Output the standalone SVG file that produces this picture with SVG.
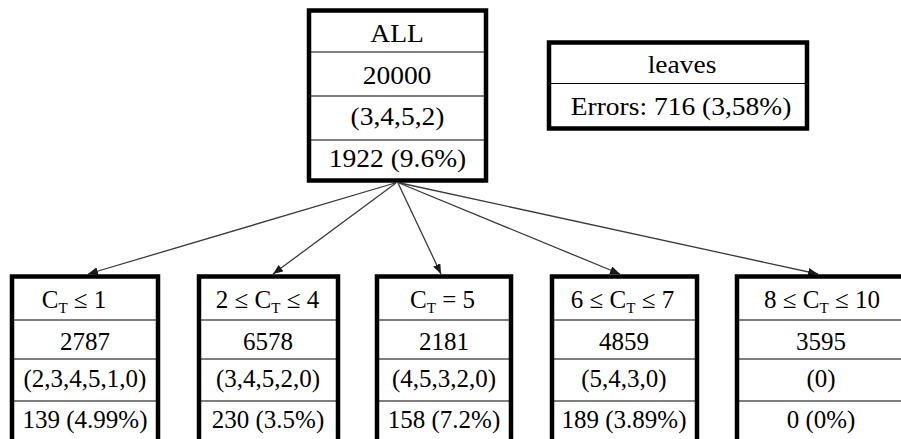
<svg xmlns="http://www.w3.org/2000/svg" width="901" height="439" viewBox="0 0 901 439">
<style>
.box{fill:#fff;stroke:#000;stroke-width:4.5}
.div{stroke:#000;stroke-width:1.2}
text{font-family:"Liberation Serif","Times New Roman",serif;fill:#000;text-anchor:middle}
.big{font-size:25px}
.sm{font-size:25px}
.sub{font-size:15px}
.edge{stroke:#3a3a3a;stroke-width:1.3;fill:none;marker-end:url(#ah)}
</style>
<defs>
<marker id="ah" markerUnits="userSpaceOnUse" markerWidth="10" markerHeight="8" refX="10" refY="4" orient="auto">
<path d="M0,0 L10,4 L0,8 z" fill="#1a1a1a"/>
</marker>
</defs>
<rect width="901" height="439" fill="#fff"/>
<g id="edges">
<line class="edge" x1="395" y1="183" x2="88" y2="274"/>
<line class="edge" x1="396" y1="183" x2="273" y2="274"/>
<line class="edge" x1="398" y1="183" x2="441" y2="274"/>
<line class="edge" x1="399" y1="183" x2="620" y2="274"/>
<line class="edge" x1="400" y1="183" x2="818" y2="274"/>
</g>
<g id="root">
<rect class="box" x="309" y="10.5" width="177" height="170"/>
<line class="div" x1="309" y1="52" x2="486" y2="52"/>
<line class="div" x1="309" y1="96" x2="486" y2="96"/>
<line class="div" x1="309" y1="140" x2="486" y2="140"/>
<text class="big" transform="matrix(1.1 0 0 1 397 42)">ALL</text>
<text class="big" transform="matrix(1.1 0 0 1 397 84)">20000</text>
<text class="big" transform="matrix(1.1 0 0 1 397.5 125)">(3,4,5,2)</text>
<text class="big" transform="matrix(1.1 0 0 1 397.5 167)">1922 (9.6%)</text>
</g>
<g id="leaves">
<rect class="box" x="549" y="42.5" width="258" height="86"/>
<line class="div" x1="549" y1="83.5" x2="807" y2="83.5"/>
<text class="big" transform="matrix(1.1 0 0 1 682 73)">leaves</text>
<text class="big" transform="matrix(1.1 0 0 1 681 115)">Errors: 716 (3,58%)</text>
</g>
<g id="n1">
<rect class="box" x="12" y="276.5" width="146" height="180"/>
<line class="div" x1="12" y1="320" x2="158" y2="320"/>
<line class="div" x1="12" y1="359" x2="158" y2="359"/>
<line class="div" x1="12" y1="401" x2="158" y2="401"/>
<text class="sm" x="74" y="308">C<tspan class="sub" dy="5">T</tspan><tspan dy="-5"> ≤ 1</tspan></text>
<text class="sm" x="85" y="350">2787</text>
<text class="sm" x="85" y="387">(2,3,4,5,1,0)</text>
<text class="sm" x="85" y="428">139 (4.99%)</text>
</g>
<g id="n2">
<rect class="box" x="199" y="276.5" width="139" height="180"/>
<line class="div" x1="199" y1="320" x2="338" y2="320"/>
<line class="div" x1="199" y1="359" x2="338" y2="359"/>
<line class="div" x1="199" y1="401" x2="338" y2="401"/>
<text class="sm" x="267.5" y="308">2 ≤ C<tspan class="sub" dy="5">T</tspan><tspan dy="-5"> ≤ 4</tspan></text>
<text class="sm" x="268" y="350">6578</text>
<text class="sm" x="268" y="387">(3,4,5,2,0)</text>
<text class="sm" x="268" y="428">230 (3.5%)</text>
</g>
<g id="n3">
<rect class="box" x="377" y="276.5" width="134" height="180"/>
<line class="div" x1="377" y1="320" x2="511" y2="320"/>
<line class="div" x1="377" y1="359" x2="511" y2="359"/>
<line class="div" x1="377" y1="401" x2="511" y2="401"/>
<text class="sm" x="442.5" y="308">C<tspan class="sub" dy="5">T</tspan><tspan dy="-5"> = 5</tspan></text>
<text class="sm" x="444" y="350">2181</text>
<text class="sm" x="444" y="387">(4,5,3,2,0)</text>
<text class="sm" x="444" y="428">158 (7.2%)</text>
</g>
<g id="n4">
<rect class="box" x="552" y="276.5" width="145" height="180"/>
<line class="div" x1="552" y1="320" x2="697" y2="320"/>
<line class="div" x1="552" y1="359" x2="697" y2="359"/>
<line class="div" x1="552" y1="401" x2="697" y2="401"/>
<text class="sm" x="622.5" y="308">6 ≤ C<tspan class="sub" dy="5">T</tspan><tspan dy="-5"> ≤ 7</tspan></text>
<text class="sm" x="624" y="350">4859</text>
<text class="sm" x="624" y="387">(5,4,3,0)</text>
<text class="sm" x="624" y="428">189 (3.89%)</text>
</g>
<g id="n5">
<rect class="box" x="737" y="276.5" width="170" height="180"/>
<line class="div" x1="737" y1="320" x2="907" y2="320"/>
<line class="div" x1="737" y1="359" x2="907" y2="359"/>
<line class="div" x1="737" y1="401" x2="907" y2="401"/>
<text class="sm" x="822" y="308">8 ≤ C<tspan class="sub" dy="5">T</tspan><tspan dy="-5"> ≤ 10</tspan></text>
<text class="sm" x="821" y="350">3595</text>
<text class="sm" x="821" y="387">(0)</text>
<text class="sm" x="821" y="428">0 (0%)</text>
</g>
</svg>
